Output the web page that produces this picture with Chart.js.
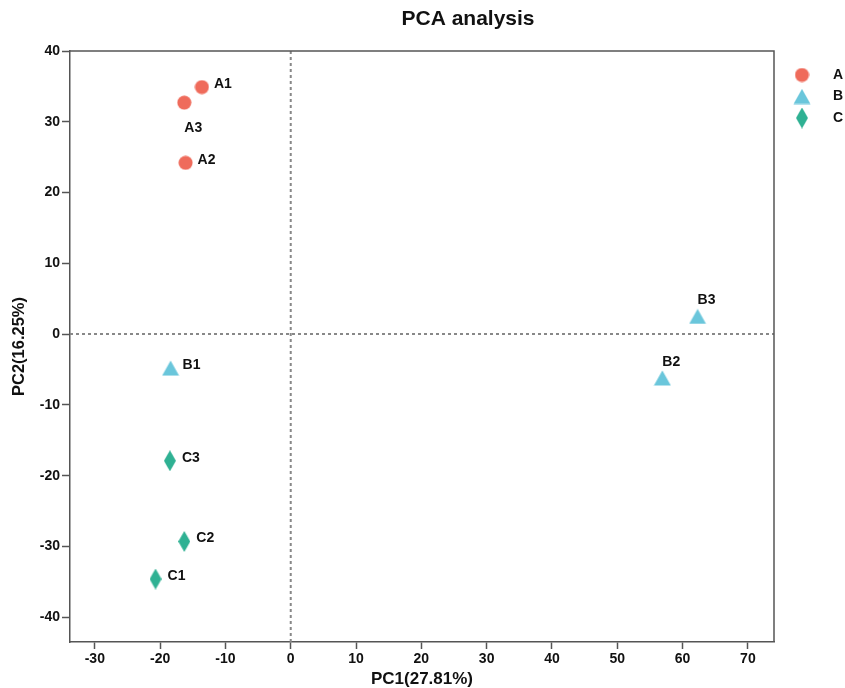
<!DOCTYPE html>
<html>
<head>
<meta charset="utf-8">
<script src="https://cdn.jsdelivr.net/npm/chart.js@4.4.1/dist/chart.umd.min.js"></script>
<style>
    html, body { margin: 0; padding: 0; background: #fff; }
    #wrap { width: 845px; height: 688px; }
</style>
</head>
<body>
<div id="wrap"><canvas id="pca"></canvas></div>
<script>
const chartTitle = 'PCA analysis'
const xLabel = 'PC1(27.81%)'
const yLabel = 'PC2(16.25%)'
const groupNames = ['A', 'B', 'C']
const sampleNames = ['A1', 'A2', 'A3', 'B1', 'B2', 'B3', 'C1', 'C2', 'C3']
const sampleGroup = ['A', 'A', 'A', 'B', 'B', 'B', 'C', 'C', 'C']
const pc1 = [-13.6, -16.1, -16.3, -18.4, 56.9, 62.3, -20.7, -16.3, -18.5]
const pc2 = [34.9, 24.2, 32.7, -4.8, -6.2, 2.5, -34.6, -29.3, -17.9]
const xTickValues = [-30, -20, -10, 0, 10, 20, 30, 40, 50, 60, 70]
const yTickValues = [-40, -30, -20, -10, 0, 10, 20, 30, 40]

// styling
const FONT = '"Liberation Sans", Arial, sans-serif'
const AXIS = '#555'
const colors = { A: '#EF6B5B', B: '#6AC6DB', C: '#2FB193' }
const shapes = { A: 'circle', B: 'triangle', C: 'diamond' }
const labelSide = ['right', 'right', 'below', 'right', 'above', 'above', 'right', 'right', 'right']

function marker(shape, color) {
    const c = document.createElement('canvas')
    let g
    if (shape === 'circle') {
        c.width = 15; c.height = 15
        g = c.getContext('2d')
        g.fillStyle = color
        g.beginPath(); g.arc(7.5, 7.5, 7, 0, Math.PI * 2); g.fill()
    } else if (shape === 'triangle') {
        c.width = 18; c.height = 16
        g = c.getContext('2d')
        g.fillStyle = color
        g.beginPath(); g.moveTo(9, 0.5); g.lineTo(17.5, 15.5); g.lineTo(0.5, 15.5); g.closePath(); g.fill()
    } else {
        c.width = 12; c.height = 21
        g = c.getContext('2d')
        g.fillStyle = color
        g.beginPath(); g.moveTo(6, 0); g.lineTo(12, 10.5); g.lineTo(6, 21); g.lineTo(0, 10.5); g.closePath(); g.fill()
    }
    return c
}

const markers = {}
groupNames.forEach(g => { markers[g] = marker(shapes[g], colors[g]) })

const datasets = groupNames.map(g => ({
    label: g,
    data: sampleNames.map((name, i) => ({ x: pc1[i], y: pc2[i], name, side: labelSide[i], group: sampleGroup[i] }))
        .filter(p => p.group === g),
    pointStyle: markers[g],
    pointRadius: 8,
    backgroundColor: colors[g],
    borderColor: colors[g],
}))

const decor = {
    id: 'decor',
    beforeDraw(chart) {
        const { ctx, width, height } = chart
        ctx.save()
        ctx.fillStyle = '#fff'
        ctx.fillRect(0, 0, width, height)
        ctx.restore()
    },
    beforeDatasetsDraw(chart) {
        const { ctx, chartArea: a, scales } = chart
        const x0 = scales.x.getPixelForValue(0)
        const y0 = scales.y.getPixelForValue(0)
        ctx.save()
        ctx.strokeStyle = '#888'
        ctx.lineWidth = 2
        ctx.setLineDash([3, 3])
        ctx.beginPath()
        ctx.moveTo(x0, a.top); ctx.lineTo(x0, a.bottom)
        ctx.moveTo(a.left, y0); ctx.lineTo(a.right, y0)
        ctx.stroke()
        ctx.restore()
    },
    afterDraw(chart) {
        const { ctx, chartArea: a } = chart
        ctx.save()
        // top and right border
        ctx.strokeStyle = AXIS
        ctx.lineWidth = 1.5
        ctx.beginPath()
        ctx.moveTo(a.left, a.top); ctx.lineTo(a.right, a.top); ctx.lineTo(a.right, a.bottom)
        ctx.stroke()

        // sample labels
        ctx.fillStyle = '#111'
        ctx.font = 'bold 14px ' + FONT
        ctx.textAlign = 'left'
        ctx.textBaseline = 'middle'
        chart.data.datasets.forEach((ds, di) => {
            chart.getDatasetMeta(di).data.forEach((el, i) => {
                const p = ds.data[i]
                if (p.side === 'right') ctx.fillText(p.name, el.x + 12, el.y - 3)
                else if (p.side === 'above') ctx.fillText(p.name, el.x, el.y - 16)
                else ctx.fillText(p.name, el.x, el.y + 25)
            })
        })

        // legend
        ctx.font = 'bold 14px ' + FONT
        groupNames.forEach((g, i) => {
            const y = 75 + i * 21.5
            const m = markers[g]
            ctx.drawImage(m, 802 - m.width / 2, y - m.height / 2)
            ctx.fillText(g, 833, y)
        })

        // title
        ctx.font = 'bold 21px ' + FONT
        ctx.textAlign = 'center'
        ctx.fillText(chartTitle, 468, 19)
        ctx.restore()
    }
}

const tickFont = { family: FONT, size: 14, weight: 'bold' }

new Chart(document.getElementById('pca'), {
    type: 'scatter',
    data: { datasets },
    options: {
        responsive: true,
        maintainAspectRatio: false,
        animation: false,
        events: [],
        layout: { padding: { top: 51, right: 71, left: 0, bottom: 0 } },
        plugins: {
            legend: { display: false },
            tooltip: { enabled: false },
        },
        scales: {
            x: {
                type: 'linear',
                min: -33.8,
                max: 74,
                afterBuildTicks(s) { s.ticks = xTickValues.map(v => ({ value: v })) },
                afterFit(s) { s.height = 46 },
                grid: { drawOnChartArea: false, tickLength: 7, tickColor: AXIS, tickWidth: 1.5 },
                border: { color: AXIS, width: 1.5 },
                ticks: { font: tickFont, color: '#111', padding: 2, maxRotation: 0, autoSkip: false },
                title: { display: true, text: xLabel, font: { family: FONT, size: 17, weight: 'bold', lineHeight: 1 }, color: '#111', padding: { top: 0, bottom: 0 } },
            },
            y: {
                type: 'linear',
                min: -43.5,
                max: 40,
                afterBuildTicks(s) { s.ticks = yTickValues.map(v => ({ value: v })) },
                afterFit(s) { s.width = 70 },
                grid: { drawOnChartArea: false, tickLength: 8, tickColor: AXIS, tickWidth: 1.5 },
                border: { color: AXIS, width: 1.5 },
                ticks: { font: tickFont, color: '#111', padding: 2, autoSkip: false },
                title: { display: true, text: yLabel, font: { family: FONT, size: 16.5, weight: 'bold' }, color: '#111', padding: { top: 10, bottom: 0 } },
            }
        }
    },
    plugins: [decor]
})
</script>
</body>
</html>
